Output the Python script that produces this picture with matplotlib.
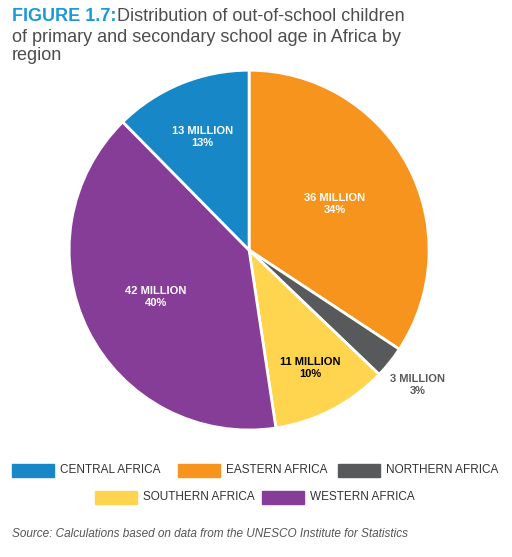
import matplotlib.pyplot as plt
import numpy as np
from matplotlib.patches import Rectangle

regions = ["EASTERN AFRICA", "NORTHERN AFRICA", "SOUTHERN AFRICA", "WESTERN AFRICA", "CENTRAL AFRICA"]
millions = [36, 3, 11, 42, 13]
percents = [34, 3, 10, 40, 13]
colors = ["#f7941d", "#58595b", "#ffd54f", "#853d97", "#1787c8"]
label_colors = ["white", "#58595b", "black", "white", "white"]
label_dist = [0.54, 1.2, 0.74, 0.58, 0.68]

legend_order = ["CENTRAL AFRICA", "EASTERN AFRICA", "NORTHERN AFRICA", "SOUTHERN AFRICA", "WESTERN AFRICA"]
legend_pos = [(12, 470), (178, 470), (338, 470), (95, 497), (262, 497)]

W, H = 512, 557
fig = plt.figure(figsize=(W / 100, H / 100), dpi=100)
plt.rcParams['font.family'] = ['Liberation Sans', 'DejaVu Sans']

ax = fig.add_axes([0.135, 0.228, 0.703, 0.646])
wedges, _ = ax.pie(millions, colors=colors, startangle=90, counterclock=False,
                   wedgeprops=dict(edgecolor="white", linewidth=2))
ax.set_aspect("auto")
ax.set_xlim(-1, 1)
ax.set_ylim(-1, 1)
for w, m, p, c, d in zip(wedges, millions, percents, label_colors, label_dist):
    ang = np.deg2rad((w.theta1 + w.theta2) / 2)
    x, y = d * np.cos(ang), d * np.sin(ang)
    ax.text(x, y, f"{m} MILLION\n{p}%", ha="center", va="center", color=c,
            fontsize=8, fontweight="bold", fontstretch="condensed", linespacing=1.2)

title_color = "#4d4d4f"
fig.text(12 / W, 1 - 8 / H, "FIGURE 1.7:", color="#1a9ad6", fontsize=13,
         fontweight="bold", va="top")
fig.text(117 / W, 1 - 8 / H, "Distribution of out-of-school children",
         color=title_color, fontsize=13, va="top")
fig.text(12 / W, 1 - 29 / H,
         "of primary and secondary school age in Africa by\nregion",
         color=title_color, fontsize=13, va="top", linespacing=1.05)

for name, (px, py) in zip(legend_order, legend_pos):
    col = colors[regions.index(name)]
    fig.patches.append(Rectangle((px / W, 1 - (py + 7) / H), 42 / W, 13 / H,
                                 transform=fig.transFigure, color=col))
    fig.text((px + 48) / W, 1 - py / H, name, fontsize=8.5, va="center",
             color="#333333")

fig.text(12 / W, 1 - 534 / H,
         "Source: Calculations based on data from the UNESCO Institute for Statistics",
         fontsize=8.5, style="italic", color="#555555", va="center")

fig.savefig("out.png", dpi=100)
